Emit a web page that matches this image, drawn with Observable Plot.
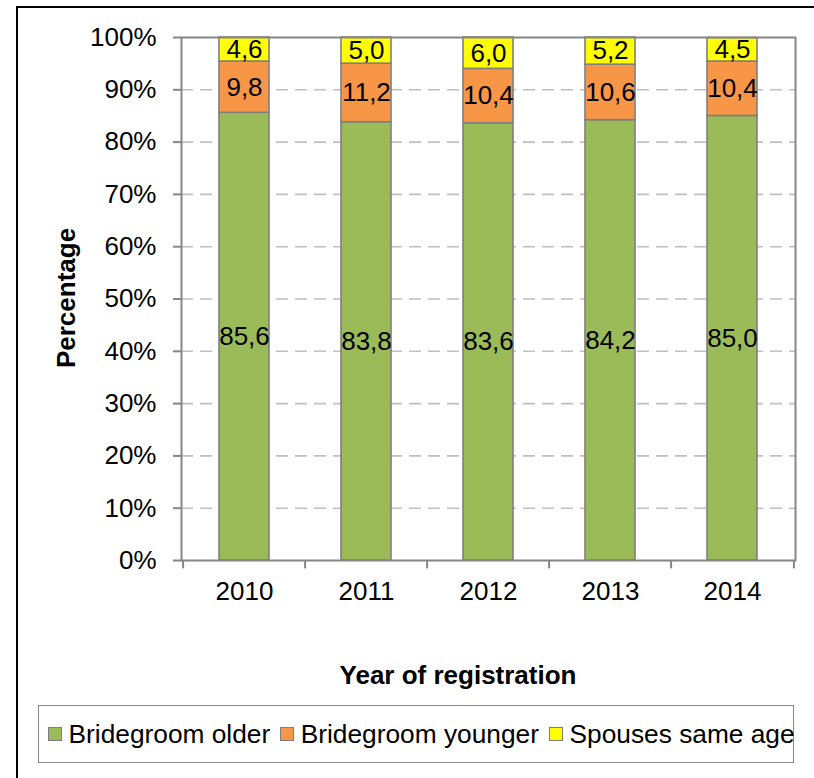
<!DOCTYPE html>
<html><head><meta charset="utf-8">
<script src="https://cdn.jsdelivr.net/npm/d3@7"></script>
<script src="https://cdn.jsdelivr.net/npm/@observablehq/plot@0.6"></script>
<style>
body{margin:0;background:#fff;overflow:hidden;font-family:"Liberation Sans",Arial,sans-serif;color:#000;}
#wrap{position:relative;width:814px;height:778px;overflow:hidden;}
#border{position:absolute;left:16px;top:6px;width:900px;height:900px;border-left:2px solid #000;border-top:2px solid #000;}
#chart{position:absolute;left:0;top:0;}
#ytitle{position:absolute;left:66px;top:298px;transform:translate(-50%,-50%) rotate(-90deg);font-weight:bold;font-size:26px;white-space:nowrap;}
#xtitle{position:absolute;left:458px;top:675px;transform:translate(-50%,-50%);font-weight:bold;font-size:26px;white-space:nowrap;}
#legend{position:absolute;left:38px;top:705px;width:756px;height:58px;border:1.5px solid #888;box-sizing:border-box;display:flex;align-items:center;padding-left:9px;font-size:26.3px;white-space:nowrap;}
.item{display:flex;align-items:center;margin-right:10px;}
.sw{width:12px;height:12px;border:1px solid #7f7f7f;margin-right:6.5px;}
</style></head>
<body>
<div id="wrap">
  <div id="border"></div>
  <div id="chart"></div>
  <div id="ytitle">Percentage</div>
  <div id="xtitle">Year of registration</div>
  <div id="legend"></div>
</div>
<script>
const years = ["2010", "2011", "2012", "2013", "2014"];
const series = ["Bridegroom older", "Bridegroom younger", "Spouses same age"];
const colors = ["#9BBB59", "#F79646", "#FFFF00"];
const older = [85.6, 83.8, 83.6, 84.2, 85.0];
const younger = [9.8, 11.2, 10.4, 10.6, 10.4];
const same = [4.6, 5.0, 6.0, 5.2, 4.5];
const yTicks = [0, 10, 20, 30, 40, 50, 60, 70, 80, 90, 100];
const gridTicks = [10, 20, 30, 40, 50, 60, 70, 80, 90];

const seriesValues = [older, younger, same];
const rows = [];
years.forEach((yr, i) => {
  series.forEach((s, j) => rows.push({year: yr, series: s, value: seriesValues[j][i]}));
});
const fmt = v => v.toFixed(1).replace(".", ",");
const halfStep = 61.4;

const chart = Plot.plot({
  width: 814,
  height: 778,
  marginLeft: 181,
  marginRight: 19,
  marginTop: 37,
  marginBottom: 218,
  style: {fontFamily: "Liberation Sans, Arial, sans-serif", fontSize: "26px", color: "#000", background: "transparent"},
  x: {domain: years, paddingInner: 0.59, paddingOuter: 0.295},
  y: {domain: [0, 100]},
  color: {domain: series, range: colors},
  marks: [
    Plot.gridY(gridTicks, {stroke: "#c0c0c0", strokeOpacity: 1, strokeWidth: 1.6, strokeDasharray: "12,7"}),
    Plot.barY(rows, {x: "year", y: "value", fill: "series", stroke: "#7f7f7f", strokeWidth: 1.6}),
    Plot.text(rows, Plot.stackY({x: "year", y: "value", text: d => fmt(d.value), fontSize: 26, fill: "#000"})),
    Plot.frame({stroke: "#868686", strokeWidth: 2}),
    Plot.ruleX(years, {x: d => d, dx: -halfStep, y1: 0, y2: -1.6, stroke: "#868686", strokeWidth: 2}),
    Plot.ruleX(years.slice(-1), {x: d => d, dx: halfStep, y1: 0, y2: -1.6, stroke: "#868686", strokeWidth: 2}),
    Plot.axisY(yTicks, {tickSize: 8, tickPadding: 17, tickFormat: d => d + "%", fontSize: 26, stroke: "#868686", strokeWidth: 2, fill: "#000", label: null}),
    Plot.axisX({tickSize: 0, tickPadding: 21, fontSize: 26, fill: "#000", label: null})
  ]
});
document.getElementById("chart").appendChild(chart);

const legend = document.getElementById("legend");
series.forEach((s, i) => {
  const it = document.createElement("div");
  it.className = "item";
  const sw = document.createElement("div");
  sw.className = "sw";
  sw.style.background = colors[i];
  const tx = document.createElement("span");
  tx.textContent = s;
  it.appendChild(sw);
  it.appendChild(tx);
  legend.appendChild(it);
});
</script>
</body></html>
